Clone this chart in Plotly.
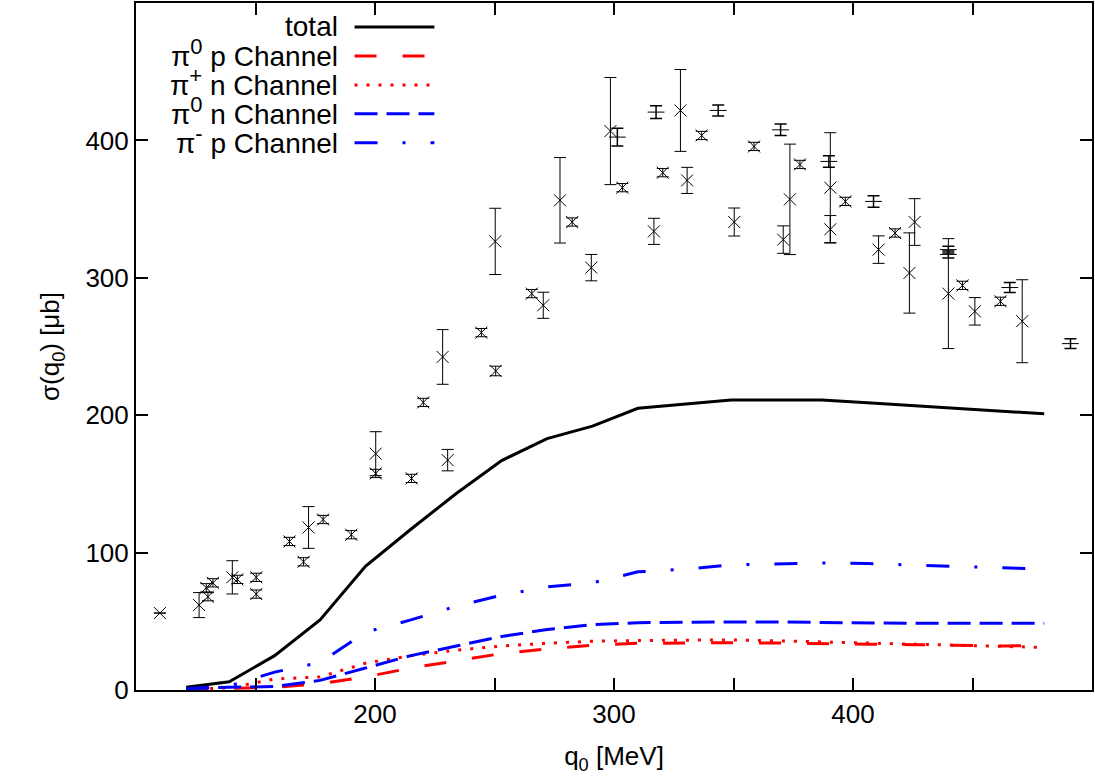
import plotly.graph_objects as go

# Model curves: cross sections (mu b) on a common photon-energy grid (MeV)
q_model = [121, 139, 158, 177, 196, 215, 234, 253, 272, 291,
           310, 330, 349, 368, 387, 406, 425, 444, 463, 480]
sig_total = [2, 6, 25, 51, 90, 117, 143, 167, 183, 192,
             205, 208, 211, 211, 211, 209, 207, 205, 203, 201]
sig_pi0_p = [0.3, 1, 2, 4.5, 9.5, 16, 21, 26.5, 30, 32.5,
             34, 34.3, 34.4, 34.2, 34, 33.3, 33, 32.5, 32, 32.5]
sig_pip_n = [0.5, 1.5, 8, 9.5, 19.5, 25, 29, 32, 34, 35.5,
             36, 36.5, 36.5, 35.8, 35, 34.3, 33.4, 32.5, 31.5, 31]
sig_pi0_n = [1, 2, 2.5, 7, 16, 25, 32, 39, 44, 47.5,
             49, 49.5, 49.5, 49.5, 49, 49, 48.5, 48.5, 48.5, 48.5]
sig_pim_p = [1, 3, 13, 20, 42, 51, 61, 69, 75, 78,
             86, 88, 91, 92, 92.5, 92, 91, 90, 89, 88]

# Measurements drawn with "x" markers
exp_x_q = [110, 126.4, 130.1, 129.4, 132.2, 140.3, 142.4, 150.3, 150.3, 164.2,
           170.1, 172.2, 178.3, 190.1, 200.3, 200.3, 215.3, 220.2, 228.3, 230.4,
           244.5, 250.5, 250.3, 265.6, 270.4, 277.4, 282.5, 290.5, 298.5, 303.5,
           320.4, 316.7, 327.8, 336.7, 330.6, 350.3, 358.6, 373.6, 370.8, 377.8,
           390.5, 390.5, 396.8, 417.6, 410.7, 425.8, 423.6, 439.9, 445.8, 451.0,
           461.7, 470.8]
exp_x_sig = [56, 61.8, 67.9, 74.4, 78, 82, 80.5, 82, 69.8, 108.1,
             93.3, 118.3, 124.1, 113, 157.6, 172, 154, 209.3, 242.4, 167.3,
             260.1, 232.2, 326.5, 288.5, 280, 356.4, 340.6, 307.4, 406.8, 365.6,
             376.5, 333.8, 421.8, 403.6, 370.9, 340.6, 395.6, 357.1, 327.8, 382.5,
             365.6, 335.3, 355.6, 332.6, 320.5, 340.6, 303.5, 288.5, 294.5, 275.6,
             282.9, 268.4]
exp_x_err = [0, 9.1, 3, 3, 3, 12.1, 3, 3, 3, 3,
             3, 15.2, 3, 3, 3, 16, 3, 3, 19.9, 7.8,
             3, 3.5, 24.1, 3, 9.5, 31.1, 3, 9.6, 39, 3,
             3, 9.5, 29.8, 3, 9.5, 10.2, 3, 40.2, 10, 3,
             40, 10, 3, 3, 10, 17, 29.2, 40, 3, 10,
             3, 30.2]

# Measurements drawn with "+" markers
exp_p_q = [301.4, 317.6, 343.6, 369.7, 389.9, 408.6, 439.9, 439.9, 465.6, 491.0]
exp_p_sig = [402.4, 420.6, 421.8, 407.7, 384.7, 355.6, 320.5, 317.0, 292.9, 252.1]
exp_p_err = [6.5, 4.6, 4.0, 4.2, 4.2, 4.2, 2.5, 2.5, 3.6, 3.6]

FONT = "Liberation Sans, Arial, sans-serif"
FS = 26
LEG_FS = 28


def charge(s):
    return "<sup><span style='font-size:22px'>" + s + "</span></sup>"


legend_labels = ["total",
                 "\u03c0" + charge("0") + " p Channel",
                 "\u03c0" + charge("+") + " n Channel",
                 "\u03c0" + charge("0") + " n Channel",
                 "\u03c0" + charge("-") + " p Channel"]

series = [
    (sig_total, "black", "solid"),
    (sig_pi0_p, "#ff0000", "22px,26px"),
    (sig_pip_n, "#ff0000", "3px,9px"),
    (sig_pi0_n, "#0000ff", "23px,9px"),
    (sig_pim_p, "#0000ff", "23px,25px,3px,25px"),
]

fig = go.Figure()

for ys, color, dash in series:
    fig.add_trace(go.Scatter(
        x=q_model, y=ys, mode="lines",
        line=dict(color=color, width=3, dash=dash),
        showlegend=False, hoverinfo="skip"))

fig.add_trace(go.Scatter(
    x=exp_x_q, y=exp_x_sig, mode="markers",
    marker=dict(symbol="x-thin", size=12, line=dict(color="black", width=1)),
    error_y=dict(type="data", array=exp_x_err, width=6, thickness=1, color="black"),
    showlegend=False))

fig.add_trace(go.Scatter(
    x=exp_p_q, y=exp_p_sig, mode="markers",
    marker=dict(symbol="line-ew", size=12, line=dict(color="black", width=1)),
    error_y=dict(type="data", array=exp_p_err, width=6, thickness=1.5, color="black"),
    showlegend=False))

# Hand-built key: labels right-aligned with the line sample to their right
plot_left, plot_right, plot_top, plot_bottom = 136, 1094, 2, 690
pw = plot_right - plot_left
ph = plot_bottom - plot_top
row_y = [26, 55, 84, 113, 142]
text_shift = [0, -3, -3, -3, -3]   # superscripts enlarge the text box downward
annotations = []
shapes = []
for (ys, color, dash), label, py, dy in zip(series, legend_labels, row_y, text_shift):
    yp = (plot_bottom - py) / ph
    annotations.append(dict(
        text=label, xref="paper", yref="paper",
        x=(340 - plot_left) / pw, y=(plot_bottom - py - dy) / ph,
        xanchor="right", yanchor="middle",
        showarrow=False, font=dict(family=FONT, size=LEG_FS, color="black")))
    shapes.append(dict(
        type="line", xref="paper", yref="paper",
        x0=(355 - plot_left) / pw, x1=(435 - plot_left) / pw, y0=yp, y1=yp,
        line=dict(color=color, width=3, dash=dash)))

axis_common = dict(
    showgrid=False, zeroline=False, showline=True, linecolor="black", linewidth=2,
    mirror="ticks", ticks="inside", ticklen=12, tickwidth=1.5, tickcolor="black",
    tickfont=dict(family=FONT, size=FS, color="black"),
)

fig.update_layout(
    width=1095, height=781,
    margin=dict(l=plot_left, r=1095 - plot_right, t=plot_top, b=781 - plot_bottom),
    paper_bgcolor="white", plot_bgcolor="white",
    xaxis=dict(range=[100, 500],
               tickvals=[150, 200, 250, 300, 350, 400, 450],
               ticktext=["", "200", "", "300", "", "400", ""],
               title=dict(text="q<sub>0</sub> [MeV]", standoff=19,
                          font=dict(family=FONT, size=FS, color="black")),
               **axis_common),
    yaxis=dict(range=[0, 500],
               tickvals=[0, 100, 200, 300, 400],
               title=dict(text="\u03c3(q<sub>0</sub>) [\u03bcb]", standoff=18,
                          font=dict(family=FONT, size=FS, color="black")),
               **axis_common),
    annotations=annotations,
    shapes=shapes,
)

fig.write_html("out.html")
